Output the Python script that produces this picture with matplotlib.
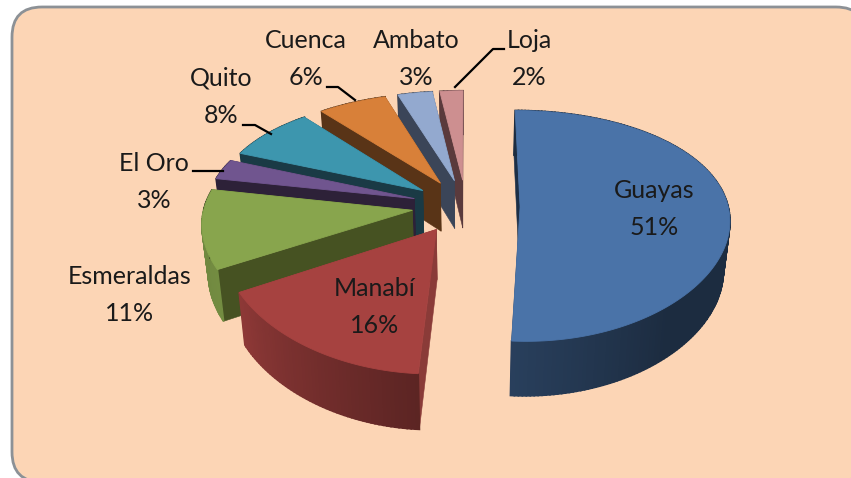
import matplotlib
matplotlib.use("Agg")
import matplotlib.pyplot as plt
import numpy as np
from matplotlib.patches import FancyBboxPatch, Polygon

plt.rcParams['font.family'] = ['Lato', 'DejaVu Sans']

# data, clockwise from 12 o'clock
names = ['Guayas', 'Manabí', 'Esmeraldas', 'El Oro', 'Quito', 'Cuenca', 'Ambato', 'Loja']
values = [51, 16, 11, 3, 8, 6, 3, 2]
top_colors = ['#4a73a8', '#a64240', '#88a54d', '#70558f', '#3d96ae', '#d88039', '#93a9cf', '#cd8f90']
cut_colors = ['#1c2f47', '#8a3b38', '#465222', '#2d2138', '#1a3a45', '#593417', '#3b4558', '#5a3a3c']
label_x = [654, 375, 130, 154, 221, 306, 416, 529]
label_y = [209, 307, 295, 182, 97, 59, 59, 59]

# fake 3d view of the pie, numbers fitted by eye
CX, CY = 466, 206
RX, RY = 208, 112
PERSP_X = 0.1
PERSP_Y = 0.165
EXPLODE_X = 0.26
EXPLODE_Y = 0.24
DEPTH = 49
SHRINK = 0.975


def project(x, y):
    return CX + RX * x / (1 + PERSP_X * y), CY - RY * y / (1 + PERSP_Y * y)


def drop(px, py, y):
    # same point on the bottom face of the slice
    return CX + (px - CX) * SHRINK, py + DEPTH / (1 + 0.1 * y)


def shade(angle):
    # outer wall gets darker from left to right
    return np.interp(angle, [-180, -150, -93, -50, 0], [0.82, 0.85, 0.55, 0.38, 0.38])


def draw_slice(ax, start, end, top, cut):
    mid = np.radians((start + end) / 2)
    ox, oy = EXPLODE_X * np.cos(mid), EXPLODE_Y * np.sin(mid)
    ang = np.linspace(start, end, max(int(abs(end - start)), 6))
    rad = np.radians(ang)
    x = np.cos(rad) + ox
    y = np.sin(rad) + oy
    px, py = project(x, y)
    bx, by = drop(px, py, y)
    ax0, ay0 = project(ox, oy)
    ax1, ay1 = drop(ax0, ay0, oy)
    rgb = np.array(matplotlib.colors.to_rgb(top))

    def wall():
        for i in range(len(ang) - 1):
            c = tuple(rgb * shade(((ang[i] + 180) % 360) - 180))
            quad = [(px[i], py[i]), (px[i + 1], py[i + 1]), (bx[i + 1], by[i + 1]), (bx[i], by[i])]
            ax.add_patch(Polygon(quad, closed=True, fc=c, ec=c, lw=1.2))

    def cuts():
        for j in (0, -1):
            face = [(px[j], py[j]), (ax0, ay0), (ax1, ay1), (bx[j], by[j])]
            ax.add_patch(Polygon(face, closed=True, fc=cut, ec=cut, lw=0.4))

    # front slices hide their cuts behind the wall, back slices the other way
    if np.sin(mid) < 0:
        cuts()
        wall()
    else:
        wall()
        cuts()
    # top face
    pts = [(ax0, ay0)] + list(zip(px, py))
    ax.add_patch(Polygon(pts, closed=True, fc=top, ec=top, lw=0.6))


def make_chart():
    fig = plt.figure(figsize=(8.51, 4.78), dpi=100)
    ax = fig.add_axes([0, 0, 1, 1])
    ax.set_xlim(0, 851)
    ax.set_ylim(478, 0)
    ax.axis('off')

    ax.add_patch(FancyBboxPatch((12, 7), 854, 475, boxstyle='round,pad=0,rounding_size=30',
                                fc='#fcd5b5', ec='#8c9196', lw=2))

    # slice angles
    edges = 90 - 3.6 * np.cumsum([0] + values)
    slices = [(edges[i], edges[i + 1], top_colors[i], cut_colors[i]) for i in range(len(values))]
    # back to front
    for i in [0, 7, 6, 5, 4, 3, 2, 1]:
        draw_slice(ax, *slices[i])

    # leader lines
    ax.plot([327, 338, 355], [87, 87, 100], color='black', lw=1.6)
    ax.plot([243, 255, 271], [125, 125, 134], color='black', lw=1.6)
    ax.plot([193, 223], [171, 171], color='black', lw=1.6)
    ax.plot([504, 493, 455], [49, 49, 87], color='black', lw=1.6)

    for n, v, lx, ly in zip(names, values, label_x, label_y):
        ax.text(lx, ly, f"{n}\n{v}%", ha='center', va='center', fontsize=18,
                color='#1a1a1a', linespacing=1.75)

    fig.savefig('out.png', dpi=100)


if __name__ == "__main__":
    make_chart()
